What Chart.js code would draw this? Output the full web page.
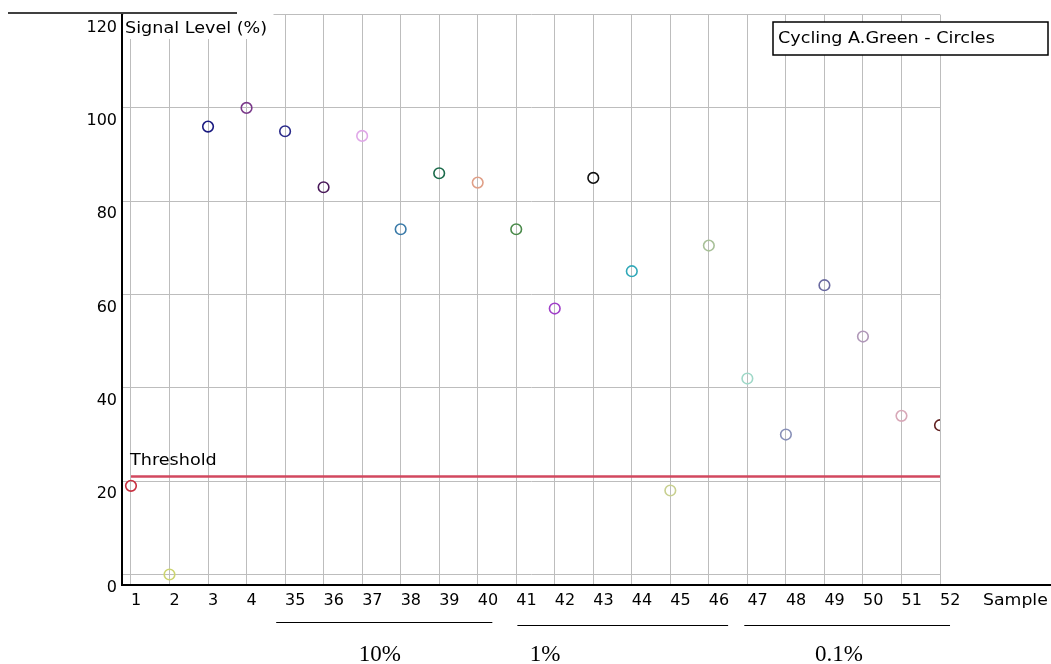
<!DOCTYPE html>
<html>
<head>
<meta charset="utf-8">
<script src="https://cdn.jsdelivr.net/npm/chart.js@4/dist/chart.umd.min.js"></script>
<style>
  html, body { margin: 0; padding: 0; background: #ffffff; }
  #wrap { width: 1051px; height: 664px; position: relative; }
</style>
</head>
<body>
<div id="wrap"><canvas id="c" width="1051" height="664"></canvas></div>
<script>
// ---- data ----
const categories = ['1','2','3','4','35','36','37','38','39','40','41','42','43','44','45','46','47','48','49','50','51','52'];
const signalLevels = [19, 0, 96, 100, 95, 83, 94, 74, 86, 84, 74, 57, 85, 65, 18, 70.5, 42, 30, 62, 51, 34, 32];
const pointColors = ['#c83040','#ccd470','#1a1a80','#7a3a8a','#2a2a8a','#4a1a5a','#e0a8e8','#3a7aa8','#1a6a4a','#e0a088',
                     '#4a8a4a','#a040c8','#101010','#30a8b8','#c8d090','#a8c098','#a0d8c8','#8890b8','#6a6aa0','#b098b8','#d8a8b8','#602020'];
const yTicks = [0, 20, 40, 60, 80, 100, 120];
const thresholdValue = 21;
const groupLabels = ['10%', '1%', '0.1%'];
const groupFirst = ['35', '41', '47'];
const groupLast = ['40', '46', '52'];
const legendText = 'Cycling A.Green - Circles';
const yTitle = 'Signal Level (%)';
const xTitle = 'Sample';

// ---- styling / layout helpers (not data) ----
const groupStyle = [
  { start: -0.23, end: 0.38, y: 622.5, labelIdx: 6.46 },
  { start: 0.03, end: 0.5, y: 625.5, labelIdx: 10.75 },
  { start: -0.08, end: 0.26, y: 625.5, labelIdx: 18.38 }
];
const SANS = '"DejaVu Sans", sans-serif';

function drawScaledText(ctx, text, x, y, font, sx, align) {
  ctx.save();
  ctx.font = font;
  ctx.textBaseline = 'middle';
  ctx.textAlign = 'left';
  const w = ctx.measureText(text).width * sx;
  let left = x;
  if (align === 'center') left = x - w / 2;
  ctx.translate(left, y);
  ctx.scale(sx, 1);
  ctx.fillStyle = '#000';
  ctx.fillText(text, 0, 0);
  ctx.restore();
}

const decorPlugin = {
  id: 'decor',
  afterDraw(chart) {
    const ctx = chart.ctx;
    const xs = chart.scales.x, ys = chart.scales.y;
    const area = chart.chartArea;
    ctx.save();
    // white box behind y title
    ctx.fillStyle = '#fff';
    ctx.fillRect(area.left + 1.5, 12, 150, 27);
    drawScaledText(ctx, yTitle, area.left + 3, ys.getPixelForValue(120) + 14, '16px ' + SANS, 1.1, 'left');
    // top black stub line
    ctx.strokeStyle = '#000';
    ctx.lineWidth = 1.5;
    ctx.beginPath();
    ctx.moveTo(8, 13); ctx.lineTo(237, 13);
    ctx.stroke();
    // x axis line extended
    ctx.lineWidth = 2;
    ctx.beginPath();
    ctx.moveTo(area.left, area.bottom); ctx.lineTo(chart.width, area.bottom);
    ctx.stroke();
    // x title
    drawScaledText(ctx, xTitle, 983, area.bottom + 16, '16px ' + SANS, 1.08, 'left');
    // threshold label
    drawScaledText(ctx, 'Threshold', xs.getPixelForValue(0) - 1, ys.getPixelForValue(thresholdValue) - 16, '16px ' + SANS, 1.1, 'left');
    // legend box
    ctx.fillStyle = '#fff';
    ctx.fillRect(773, 22, 275, 33);
    ctx.strokeStyle = '#000';
    ctx.lineWidth = 1.5;
    ctx.strokeRect(773, 22, 275, 33);
    drawScaledText(ctx, legendText, 778, 39, '16px ' + SANS, 1.1, 'left');
    // group underlines and labels
    groupLabels.forEach((lab, i) => {
      const a = categories.indexOf(groupFirst[i]);
      const b = categories.indexOf(groupLast[i]);
      const st = groupStyle[i];
      const x0 = xs.getPixelForValue(a + st.start);
      const x1 = xs.getPixelForValue(b + st.end);
      ctx.strokeStyle = '#000';
      ctx.lineWidth = 1;
      ctx.beginPath();
      ctx.moveTo(x0, st.y); ctx.lineTo(x1, st.y);
      ctx.stroke();
      ctx.fillStyle = '#000';
      ctx.font = '23px "Liberation Serif", "Times New Roman", serif';
      ctx.textAlign = 'center';
      ctx.textBaseline = 'alphabetic';
      ctx.fillText(lab, xs.getPixelForValue(st.labelIdx), 661);
    });
    ctx.restore();
  }
};

const points = signalLevels.map((v, i) => ({ x: i, y: v }));

new Chart(document.getElementById('c'), {
  type: 'scatter',
  data: {
    datasets: [
      {
        type: 'line',
        label: 'Threshold',
        data: [{ x: 0, y: thresholdValue }, { x: categories.length - 1, y: thresholdValue }],
        borderColor: '#d2485f',
        borderWidth: 2.5,
        pointRadius: 0,
        fill: false
      },
      {
        label: 'Signal',
        data: points,
        pointRadius: 5.3,
        pointBorderWidth: 1.6,
        pointBorderColor: pointColors,
        pointBackgroundColor: 'rgba(0,0,0,0)',
        pointHoverRadius: 5.3
      }
    ]
  },
  options: {
    responsive: false,
    animation: false,
    events: [],
    layout: { padding: { top: 13.5, right: 111, left: 0, bottom: 0 } },
    plugins: { legend: { display: false }, tooltip: { enabled: false }, title: { display: false } },
    scales: {
      x: {
        type: 'linear',
        min: -0.233,
        max: categories.length - 1,
        afterBuildTicks(scale) { scale.ticks = categories.map((c, i) => ({ value: i })); },
        afterFit(scale) { scale.height = 79; },
        grid: { color: '#bdbdbd', lineWidth: 1, drawTicks: false },
        border: { display: false },
        ticks: {
          autoSkip: false, maxRotation: 0, minRotation: 0, align: 'start', padding: 6,
          color: '#000', font: { family: SANS, size: 16 },
          callback: (v) => categories[v]
        }
      },
      y: {
        type: 'linear',
        min: -2.25,
        max: 120,
        afterBuildTicks(scale) { scale.ticks = yTicks.map(v => ({ value: v })); },
        afterFit(scale) { scale.width = 122; },
        grid: { color: '#bdbdbd', lineWidth: 1, drawTicks: false },
        border: { display: true, color: '#000', width: 2 },
        ticks: {
          padding: 5, labelOffset: 13,
          color: '#000', font: { family: SANS, size: 16 }
        }
      }
    }
  },
  plugins: [decorPlugin]
});
</script>
</body>
</html>
